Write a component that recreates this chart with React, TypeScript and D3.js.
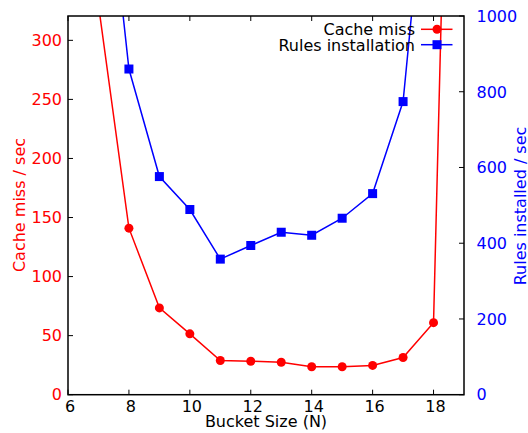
import React from "react";
import * as d3 from "d3";

const bucketSizes = [7, 8, 9, 10, 11, 12, 13, 14, 15, 16, 17, 18, 19];
const cacheMiss = [330, 141, 73.5, 51.5, 29, 28.3, 27.5, 23.7, 23.7, 24.8, 31.5, 61, 1090];
const rulesBuckets = [7, 8, 9, 10, 11, 12, 13, 14, 15, 16, 17, 18];
const rulesInstalled = [1600, 860, 576, 489, 358, 394, 429, 421, 466, 531, 774, 1600];
const xTicks = [6, 8, 10, 12, 14, 16, 18];
const leftTicks = [0, 50, 100, 150, 200, 250, 300];
const rightTicks = [0, 200, 400, 600, 800, 1000];

const W = 528;
const H = 433;
const M = { left: 68, right: 464, top: 16, bottom: 394.7 };
const FONT = "'DejaVu Sans', sans-serif";
const RED = "#ff0000";
const BLUE = "#0000ff";

export default function App() {
  const x = d3.scaleLinear().domain([6, 19]).range([M.left, M.right]);
  const yL = d3.scaleLinear().domain([0, 320.6]).range([M.bottom, M.top]);
  const yR = d3.scaleLinear().domain([0, 1000]).range([M.bottom, M.top]);

  const redLine = d3
    .line<number>()
    .x((_, i) => x(bucketSizes[i]))
    .y((d) => yL(d))(cacheMiss) as string;
  const blueLine = d3
    .line<number>()
    .x((_, i) => x(rulesBuckets[i]))
    .y((d) => yR(d))(rulesInstalled) as string;

  const tl = 5;
  return (
    <svg
      width={W}
      height={H}
      style={{ position: "absolute", left: 0, top: 0 }}
      fontFamily={FONT}
      fontSize={16}
    >
      <defs>
        <clipPath id="plot">
          <rect x={M.left} y={M.top} width={M.right - M.left} height={M.bottom - M.top} />
        </clipPath>
      </defs>
      <rect width={W} height={H} fill="#fff" />
      <g clipPath="url(#plot)">
        <path d={redLine} fill="none" stroke={RED} strokeWidth={1.5} />
        {cacheMiss.map((v, i) => (
          <circle key={i} cx={x(bucketSizes[i])} cy={yL(v)} r={4.5} fill={RED} />
        ))}
        <path d={blueLine} fill="none" stroke={BLUE} strokeWidth={1.5} />
        {rulesInstalled.map((v, i) => (
          <rect
            key={i}
            x={x(rulesBuckets[i]) - 4.5}
            y={yR(v) - 4.5}
            width={9}
            height={9}
            fill={BLUE}
          />
        ))}
      </g>
      {/* ticks */}
      {xTicks.map((t) => (
        <g key={"x" + t}>
          <line x1={x(t)} x2={x(t)} y1={M.bottom} y2={M.bottom - tl} stroke="#000" strokeWidth={1} />
          <line x1={x(t)} x2={x(t)} y1={M.top} y2={M.top + tl} stroke="#000" strokeWidth={1} />
          <text x={x(t) + 2} y={412} textAnchor="middle" fill="#000">
            {t}
          </text>
        </g>
      ))}
      {leftTicks.map((t) => (
        <g key={"l" + t}>
          <line x1={M.left} x2={M.left + tl} y1={yL(t)} y2={yL(t)} stroke="#000" strokeWidth={1} />
          <text x={62} y={yL(t)} dy="0.36em" textAnchor="end" fill={RED}>
            {t}
          </text>
        </g>
      ))}
      {rightTicks.map((t) => (
        <g key={"r" + t}>
          <line x1={M.right} x2={M.right - tl} y1={yR(t)} y2={yR(t)} stroke="#000" strokeWidth={1} />
          <text x={476.5} y={yR(t)} dy="0.36em" textAnchor="start" fill={BLUE}>
            {t}
          </text>
        </g>
      ))}
      <rect
        x={M.left}
        y={M.top}
        width={M.right - M.left}
        height={M.bottom - M.top}
        fill="none"
        stroke="#000"
        strokeWidth={1.5}
      />
      {/* axis labels */}
      <text x={266} y={427} textAnchor="middle" fill="#000">
        Bucket Size (N)
      </text>
      <text
        transform={`translate(24.5,205) rotate(-90)`}
        textAnchor="middle"
        fill={RED}
      >
        Cache miss / sec
      </text>
      <text
        transform={`translate(525.7,206) rotate(-90)`}
        textAnchor="middle"
        fill={BLUE}
      >
        Rules installed / sec
      </text>
      {/* legend */}
      <g>
        <text x={415} y={35} textAnchor="end" fill="#000">
          Cache miss
        </text>
        <line x1={421} x2={452.5} y1={29.3} y2={29.3} stroke={RED} strokeWidth={1.5} />
        <circle cx={437} cy={29.3} r={4.5} fill={RED} />
        <text x={415} y={50.5} textAnchor="end" fill="#000">
          Rules installation
        </text>
        <line x1={421} x2={452.5} y1={44.7} y2={44.7} stroke={BLUE} strokeWidth={1.5} />
        <rect x={432.5} y={40.2} width={9} height={9} fill={BLUE} />
      </g>
    </svg>
  );
}
